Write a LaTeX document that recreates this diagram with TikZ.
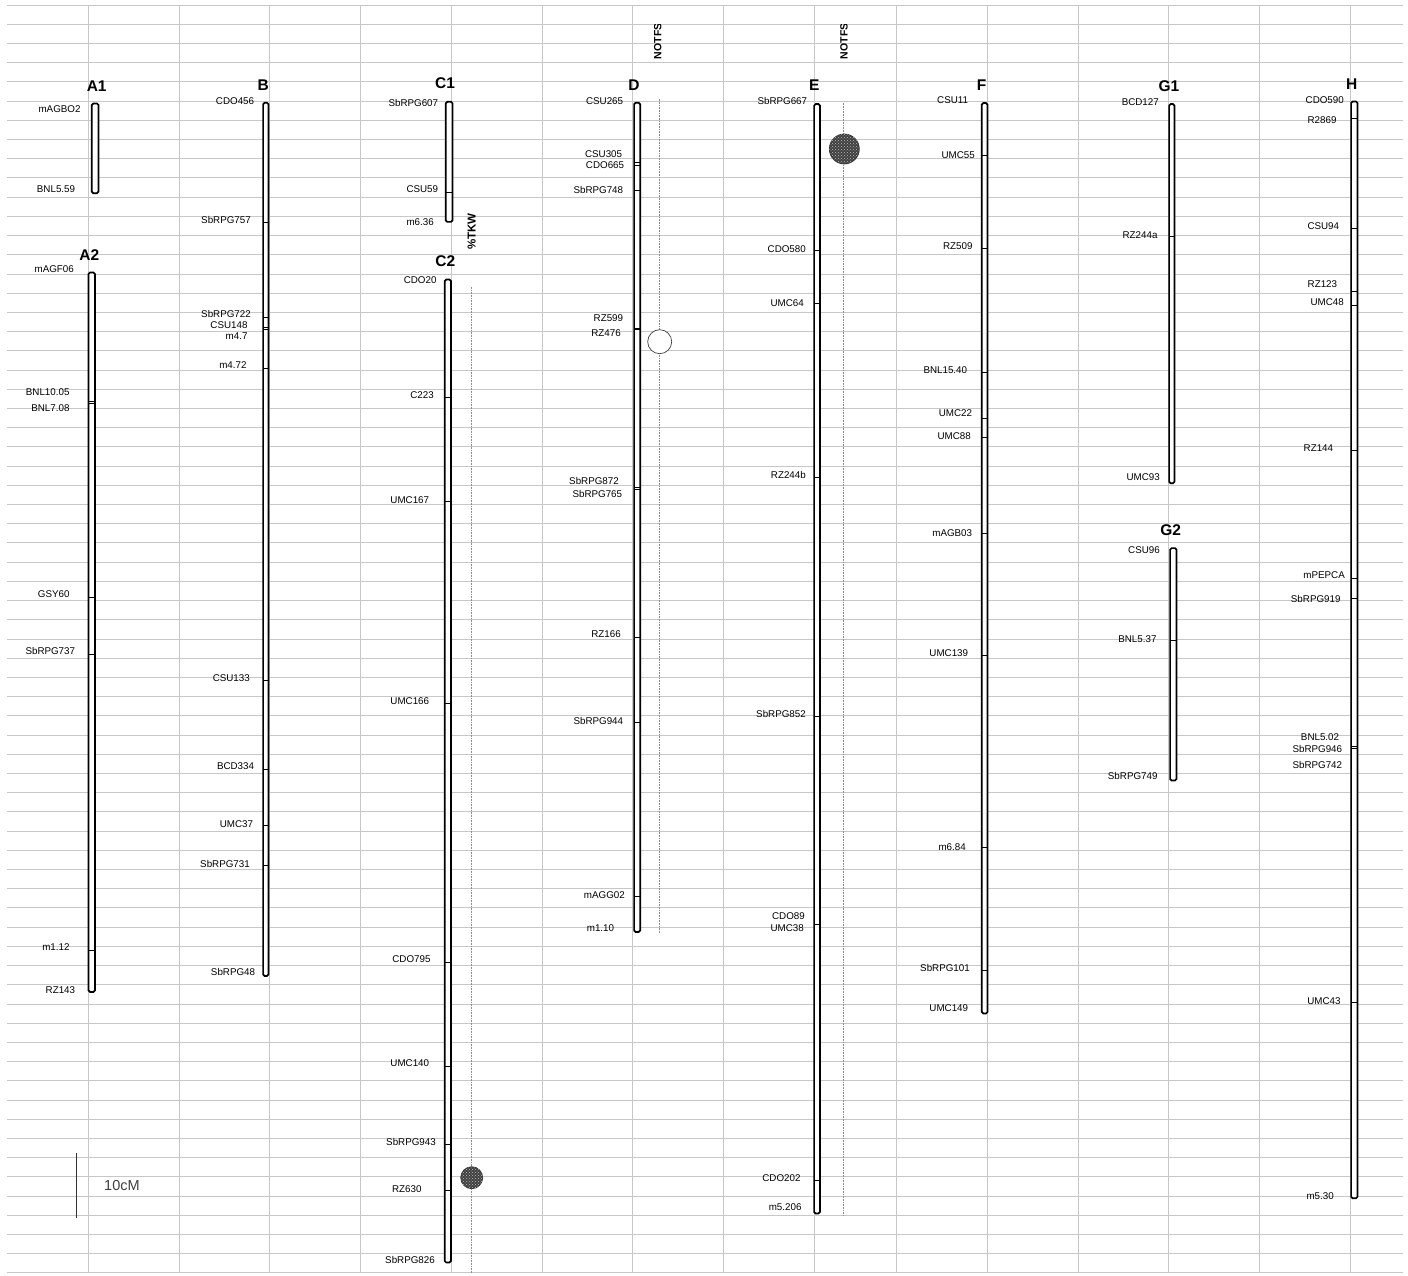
\documentclass[tikz,border=0pt]{standalone}
\usepackage{fontspec}
\setmainfont{Liberation Sans}
\usetikzlibrary{patterns}

\begin{document}
\begin{tikzpicture}[x=1pt, y=-1pt,
  mlabel/.style={anchor=east, inner sep=0pt, font=\fontsize{9.8}{11}\selectfont},
  chromtitle/.style={inner sep=0pt, font=\fontsize{15.5}{17}\selectfont\bfseries},
  traitlabel/.style={rotate=90, anchor=west, inner sep=0pt},
  chrom/.style={draw=black, fill=white, line width=1.7pt, rounded corners=1.5pt},
  marktick/.style={draw=black, line width=0.8pt},
  qtlline/.style={draw=black!45, line width=0.6pt, densely dotted},
  qtlopen/.style={circle, draw=black!75, fill=white, line width=0.7pt, inner sep=0pt},
  qtlfull/.style={circle, draw=black!80, fill=black!75, line width=0.7pt, inner sep=0pt,
    postaction={pattern=crosshatch dots, pattern color=white!75!black}}]
% Linkage groups drawn over a spreadsheet grid
\def\rowsz{19.21pt}
\providecommand{\mapGridLineColor}{black!22}
\providecommand{\mapGridLineWidth}{0.8pt}
\useasboundingbox (0,0) rectangle (1408,1276);
\fill[white] (0,0) rectangle (1408,1276);
% Grid
% Vertical lines
\begin{scope}[draw=\mapGridLineColor, line width=\mapGridLineWidth]
  \draw (88.3,5) -- (88.3,1273);
  \draw (179,5) -- (179,1273);
  \draw (269.3,5) -- (269.3,1273);
  \draw (360,5) -- (360,1273);
  \draw (451.7,5) -- (451.7,1273);
  \draw (542.3,5) -- (542.3,1273);
  \draw (632.7,5) -- (632.7,1273);
  \draw (723.3,5) -- (723.3,1273);
  \draw (814.7,5) -- (814.7,1273);
  \draw (896.3,5) -- (896.3,1273);
  \draw (987.3,5) -- (987.3,1273);
  \draw (1078,5) -- (1078,1273);
  \draw (1168.7,5) -- (1168.7,1273);
  \draw (1259.7,5) -- (1259.7,1273);
  \draw (1350.7,5) -- (1350.7,1273);
\end{scope}
% Horizontal lines, one per row
\begin{scope}[shift={(0,5)}, y=-\rowsz, draw=\mapGridLineColor, line width=\mapGridLineWidth]
  \draw (7,0) -- (1403,0);
  \draw (7,1) -- (1403,1);
  \draw (7,2) -- (1403,2);
  \draw (7,3) -- (1403,3);
  \draw (7,4) -- (1403,4);
  \draw (7,5) -- (1403,5);
  \draw (7,6) -- (1403,6);
  \draw (7,7) -- (1403,7);
  \draw (7,8) -- (1403,8);
  \draw (7,9) -- (1403,9);
  \draw (7,10) -- (1403,10);
  \draw (7,11) -- (1403,11);
  \draw (7,12) -- (1403,12);
  \draw (7,13) -- (1403,13);
  \draw (7,14) -- (1403,14);
  \draw (7,15) -- (1403,15);
  \draw (7,16) -- (1403,16);
  \draw (7,17) -- (1403,17);
  \draw (7,18) -- (1403,18);
  \draw (7,19) -- (1403,19);
  \draw (7,20) -- (1403,20);
  \draw (7,21) -- (1403,21);
  \draw (7,22) -- (1403,22);
  \draw (7,23) -- (1403,23);
  \draw (7,24) -- (1403,24);
  \draw (7,25) -- (1403,25);
  \draw (7,26) -- (1403,26);
  \draw (7,27) -- (1403,27);
  \draw (7,28) -- (1403,28);
  \draw (7,29) -- (1403,29);
  \draw (7,30) -- (1403,30);
  \draw (7,31) -- (1403,31);
  \draw (7,32) -- (1403,32);
  \draw (7,33) -- (1403,33);
  \draw (7,34) -- (1403,34);
  \draw (7,35) -- (1403,35);
  \draw (7,36) -- (1403,36);
  \draw (7,37) -- (1403,37);
  \draw (7,38) -- (1403,38);
  \draw (7,39) -- (1403,39);
  \draw (7,40) -- (1403,40);
  \draw (7,41) -- (1403,41);
  \draw (7,42) -- (1403,42);
  \draw (7,43) -- (1403,43);
  \draw (7,44) -- (1403,44);
  \draw (7,45) -- (1403,45);
  \draw (7,46) -- (1403,46);
  \draw (7,47) -- (1403,47);
  \draw (7,48) -- (1403,48);
  \draw (7,49) -- (1403,49);
  \draw (7,50) -- (1403,50);
  \draw (7,51) -- (1403,51);
  \draw (7,52) -- (1403,52);
  \draw (7,53) -- (1403,53);
  \draw (7,54) -- (1403,54);
  \draw (7,55) -- (1403,55);
  \draw (7,56) -- (1403,56);
  \draw (7,57) -- (1403,57);
  \draw (7,58) -- (1403,58);
  \draw (7,59) -- (1403,59);
  \draw (7,60) -- (1403,60);
  \draw (7,61) -- (1403,61);
  \draw (7,62) -- (1403,62);
  \draw (7,63) -- (1403,63);
  \draw (7,64) -- (1403,64);
  \draw (7,65) -- (1403,65);
  \draw (7,66) -- (1403,66);
\end{scope}
% QTL support lines
\draw[qtlline] (471.7,286.7) -- (471.7,1272.7);
\draw[qtlline] (659,98.7) -- (659,932.7);
\draw[qtlline] (843,102.7) -- (843,1215);
% Trait names (the cell cuts the last letter of NOTFS)
\node[traitlabel, font=\fontsize{11.5}{13}\selectfont\bfseries] (trTKW) at (471.7,250) {\%TKW};
\begin{scope}
  \clip (600,25) rectangle (900,70);
  \node[traitlabel, font=\fontsize{10.5}{12}\selectfont\bfseries] (trD) at (657.7,59.3) {NOTFS};
  \node[traitlabel, font=\fontsize{10.5}{12}\selectfont\bfseries] (trE) at (844,59.3) {NOTFS};
\end{scope}
% Chromosome bars
\draw[chrom] (91.8,103.5) rectangle (98.5,193.2);
\draw[chrom] (88.5,272.5) rectangle (94.9,991.9);
\draw[chrom] (263.1,102.8) rectangle (268.5,975.9);
\draw[chrom] (445.8,101.8) rectangle (452.5,221.9);
\draw[chrom] (444.8,279.5) rectangle (450.9,1262.5);
\draw[chrom] (634.1,102.8) rectangle (640.2,931.9);
\draw[chrom] (814.1,104.1) rectangle (819.9,1213.5);
\draw[chrom] (981.8,103.1) rectangle (987.5,1013.5);
\draw[chrom] (1169.1,104.1) rectangle (1174.5,483.2);
\draw[chrom] (1170.1,548.1) rectangle (1176.5,780.5);
\draw[chrom] (1351.1,101.5) rectangle (1357.5,1198.2);
% Chromosome names
\node[chromtitle] (tA1) at (96.7,86) {A1};
\node[chromtitle] (tA2) at (89.3,255) {A2};
\node[chromtitle] (tB) at (263.3,85) {B};
\node[chromtitle] (tC1) at (445,83.3) {C1};
\node[chromtitle] (tC2) at (445.3,260.7) {C2};
\node[chromtitle] (tD) at (634,85) {D};
\node[chromtitle] (tE) at (814.3,85) {E};
\node[chromtitle] (tF) at (981.7,85) {F};
\node[chromtitle] (tG1) at (1169,86) {G1};
\node[chromtitle] (tG2) at (1170.7,529.7) {G2};
\node[chromtitle] (tH) at (1351.7,84.3) {H};
% Marker ticks
\begin{scope}[marktick]
  % A2
  \draw (88.5,401) -- (94.9,401);
  \draw (88.5,403.3) -- (94.9,403.3);
  \draw (88.5,597.7) -- (94.9,597.7);
  \draw (88.5,654) -- (94.9,654);
  \draw (88.5,950.3) -- (94.9,950.3);
  % B
  \draw (263.1,222.3) -- (268.5,222.3);
  \draw (263.1,317.3) -- (268.5,317.3);
  \draw (263.1,327.3) -- (268.5,327.3);
  \draw (263.1,329) -- (268.5,329);
  \draw (263.1,368) -- (268.5,368);
  \draw (263.1,680) -- (268.5,680);
  \draw (263.1,769) -- (268.5,769);
  \draw (263.1,825.7) -- (268.5,825.7);
  \draw (263.1,865.7) -- (268.5,865.7);
  % C1
  \draw (445.8,192.7) -- (452.5,192.7);
  % C2
  \draw (444.8,397.3) -- (450.9,397.3);
  \draw (444.8,501.7) -- (450.9,501.7);
  \draw (444.8,703.3) -- (450.9,703.3);
  \draw (444.8,962.3) -- (450.9,962.3);
  \draw (444.8,1066.7) -- (450.9,1066.7);
  \draw (444.8,1144.3) -- (450.9,1144.3);
  \draw (444.8,1190.7) -- (450.9,1190.7);
  % D
  \draw (634.1,162.7) -- (640.2,162.7);
  \draw (634.1,165) -- (640.2,165);
  \draw (634.1,190.7) -- (640.2,190.7);
  \draw[line width=1.4pt] (634.1,329) -- (640.2,329);
  \draw (634.1,487.3) -- (640.2,487.3);
  \draw (634.1,489) -- (640.2,489);
  \draw (634.1,637) -- (640.2,637);
  \draw (634.1,722.7) -- (640.2,722.7);
  \draw (634.1,896) -- (640.2,896);
  % E
  \draw (814.1,250.3) -- (819.9,250.3);
  \draw (814.1,303.7) -- (819.9,303.7);
  \draw (814.1,477.7) -- (819.9,477.7);
  \draw (814.1,716.3) -- (819.9,716.3);
  \draw (814.1,924.3) -- (819.9,924.3);
  \draw (814.1,1180.3) -- (819.9,1180.3);
  % F
  \draw (981.8,155.7) -- (987.5,155.7);
  \draw (981.8,248.3) -- (987.5,248.3);
  \draw (981.8,372.7) -- (987.5,372.7);
  \draw (981.8,418) -- (987.5,418);
  \draw (981.8,437.3) -- (987.5,437.3);
  \draw (981.8,533.3) -- (987.5,533.3);
  \draw (981.8,655.3) -- (987.5,655.3);
  \draw (981.8,847.7) -- (987.5,847.7);
  \draw (981.8,970.7) -- (987.5,970.7);
  % G1, G2
  \draw (1169.1,236) -- (1174.5,236);
  \draw (1170.1,640) -- (1176.5,640);
  % H
  \draw (1351.1,118.3) -- (1357.5,118.3);
  \draw (1351.1,228) -- (1357.5,228);
  \draw (1351.1,291.7) -- (1357.5,291.7);
  \draw (1351.1,305) -- (1357.5,305);
  \draw (1351.1,450.7) -- (1357.5,450.7);
  \draw (1351.1,578.3) -- (1357.5,578.3);
  \draw (1351.1,598.3) -- (1357.5,598.3);
  \draw (1351.1,746) -- (1357.5,746);
  \draw (1351.1,748) -- (1357.5,748);
  \draw (1351.1,1002.3) -- (1357.5,1002.3);
\end{scope}
% Marker names
\begin{scope}[every node/.style={mlabel}]
  % A1
  \node (A1m1) at (80.7,109) {mAGBO2};
  \node (A1m2) at (75.3,189) {BNL5.59};
  % A2
  \node (A2m1) at (74,269) {mAGF06};
  \node (A2m2) at (69.7,392) {BNL10.05};
  \node (A2m3) at (69.7,407.7) {BNL7.08};
  \node (A2m4) at (69.7,594.3) {GSY60};
  \node (A2m5) at (75.3,651) {SbRPG737};
  \node (A2m6) at (69.7,947.3) {m1.12};
  \node (A2m7) at (75.3,990) {RZ143};
  % B
  \node (Bm1) at (254.3,101.3) {CDO456};
  \node (Bm2) at (251,220.3) {SbRPG757};
  \node (Bm3) at (251,314) {SbRPG722};
  \node (Bm4) at (247.7,325) {CSU148};
  \node (Bm5) at (247.7,336.3) {m4.7};
  \node (Bm6) at (246.7,365.3) {m4.72};
  \node (Bm7) at (250,677.7) {CSU133};
  \node (Bm8) at (254.3,766) {BCD334};
  \node (Bm9) at (253.3,823.7) {UMC37};
  \node (Bm10) at (250,864.3) {SbRPG731};
  \node (Bm11) at (255.3,972) {SbRPG48};
  % C1
  \node (C1m1) at (438.3,102.7) {SbRPG607};
  \node (C1m2) at (438.3,188.7) {CSU59};
  \node (C1m3) at (434,221.7) {m6.36};
  % C2
  \node (C2m1) at (436.7,280) {CDO20};
  \node (C2m2) at (434,395) {C223};
  \node (C2m3) at (429.3,500) {UMC167};
  \node (C2m4) at (429.3,700.7) {UMC166};
  \node (C2m5) at (430.7,959.3) {CDO795};
  \node (C2m6) at (429.3,1063.3) {UMC140};
  \node (C2m7) at (436,1142.3) {SbRPG943};
  \node (C2m8) at (421.7,1188.7) {RZ630};
  \node (C2m9) at (435,1260) {SbRPG826};
  % D
  \node (Dm1) at (623.3,101.3) {CSU265};
  \node (Dm2) at (622.3,154.3) {CSU305};
  \node (Dm3) at (624.3,164.7) {CDO665};
  \node (Dm4) at (623.3,189.7) {SbRPG748};
  \node (Dm5) at (623.3,318.3) {RZ599};
  \node (Dm6) at (621,332.7) {RZ476};
  \node (Dm7) at (619,480.7) {SbRPG872};
  \node (Dm8) at (622.3,493.7) {SbRPG765};
  \node (Dm9) at (621,634) {RZ166};
  \node (Dm10) at (623.3,720.7) {SbRPG944};
  \node (Dm11) at (625,895) {mAGG02};
  \node (Dm12) at (614.3,928) {m1.10};
  % E
  \node (Em1) at (807.3,101.3) {SbRPG667};
  \node (Em2) at (806,249.3) {CDO580};
  \node (Em3) at (804,302.7) {UMC64};
  \node (Em4) at (806,475) {RZ244b};
  \node (Em5) at (806,714) {SbRPG852};
  \node (Em6) at (805,916.3) {CDO89};
  \node (Em7) at (804,927.7) {UMC38};
  \node (Em8) at (800.7,1177.7) {CDO202};
  \node (Em9) at (801.7,1207) {m5.206};
  % F
  \node (Fm1) at (968.3,100.3) {CSU11};
  \node (Fm2) at (975,155) {UMC55};
  \node (Fm3) at (972.7,246) {RZ509};
  \node (Fm4) at (967.3,370.3) {BNL15.40};
  \node (Fm5) at (972.3,413.3) {UMC22};
  \node (Fm6) at (971,436) {UMC88};
  \node (Fm7) at (972.3,533.3) {mAGB03};
  \node (Fm8) at (968.3,652.7) {UMC139};
  \node (Fm9) at (966,846.7) {m6.84};
  \node (Fm10) at (970,968.3) {SbRPG101};
  \node (Fm11) at (968.3,1007.7) {UMC149};
  % G1
  \node (G1m1) at (1159,102) {BCD127};
  \node (G1m2) at (1157.7,234.7) {RZ244a};
  \node (G1m3) at (1160,476.7) {UMC93};
  % G2
  \node (G2m1) at (1160,550.3) {CSU96};
  \node (G2m2) at (1156.7,639.3) {BNL5.37};
  \node (G2m3) at (1157.7,776.3) {SbRPG749};
  % H
  \node (Hm1) at (1344,100.3) {CDO590};
  \node (Hm2) at (1336.7,120) {R2869};
  \node (Hm3) at (1339.3,226) {CSU94};
  \node (Hm4) at (1337.3,284.3) {RZ123};
  \node (Hm5) at (1344,301.7) {UMC48};
  \node (Hm6) at (1333.3,448.3) {RZ144};
  \node (Hm7) at (1345,575.3) {mPEPCA};
  \node (Hm8) at (1340.7,599) {SbRPG919};
  \node (Hm9) at (1339.3,736.7) {BNL5.02};
  \node (Hm10) at (1342.3,749) {SbRPG946};
  \node (Hm11) at (1342.3,765) {SbRPG742};
  \node (Hm12) at (1340.7,1001) {UMC43};
  \node (Hm13) at (1334,1195.7) {m5.30};
\end{scope}
% QTL peaks
\node[qtlopen, minimum size=24pt] (qtlD) at (659.7,341.7) {};
\node[qtlfull, minimum size=30pt] (qtlE) at (844.3,149) {};
\node[qtlfull, minimum size=22pt] (qtlC) at (471.7,1177.7) {};
% Scale bar
\draw[black!80, line width=0.8pt] (76.7,1153.3) -- (76.7,1218.3);
\node[anchor=west, inner sep=0pt, text=black!75, font=\fontsize{14.5}{16}\selectfont] (scale) at (104,1185.3) {10cM};
\end{tikzpicture}
\end{document}
